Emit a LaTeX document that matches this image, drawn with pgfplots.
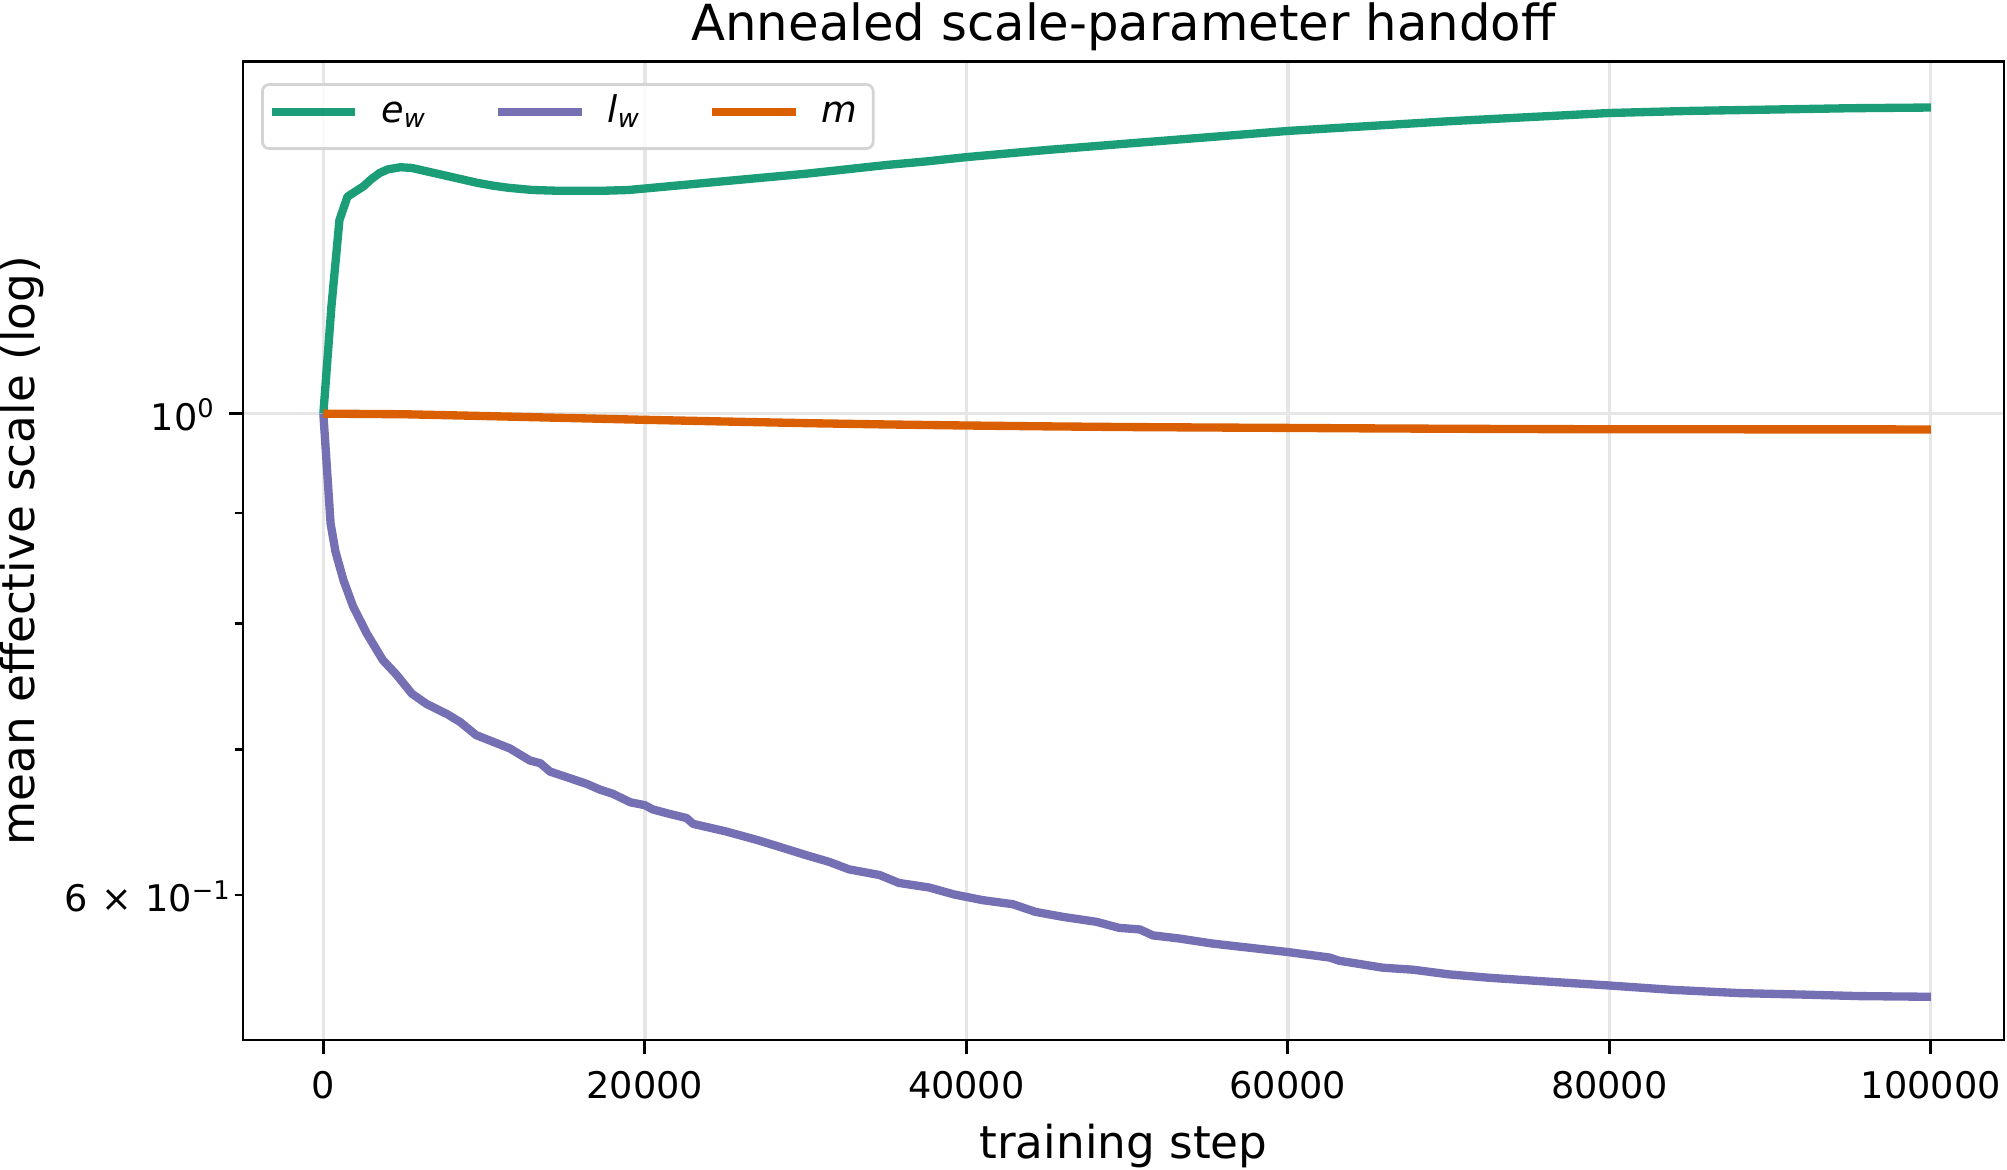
\documentclass[border=0pt]{standalone}
\usepackage{fontspec}
\setmainfont{DejaVu Sans}
\usepackage{pgfplots}
\pgfplotsset{compat=1.18}

\definecolor{ewcol}{HTML}{1B9E77}
\definecolor{lwcol}{HTML}{7570B3}
\definecolor{mcol}{HTML}{D95F02}
\definecolor{gridcol}{HTML}{E6E6E6}
\definecolor{legframe}{HTML}{D4D4D4}

\newcommand{\tickfont}{\fontsize{13.2pt}{15pt}\selectfont}
\newcommand{\labelfont}{\fontsize{16.3pt}{19pt}\selectfont}
\newcommand{\titlefont}{\fontsize{17.9pt}{21pt}\selectfont}

\begin{document}
\begin{tikzpicture}
\begin{axis}[
  at={(0,0)}, anchor=south west,
  scale only axis, width=633.9pt, height=352.2pt,
  ymode=log,
  xmin=-5000, xmax=104550,
  ymin=0.5143, ymax=1.4531,
  /pgf/number format/assume math mode=true,
  scaled x ticks=false,
  xtick={0,20000,40000,60000,80000,100000},
  xticklabels={0,20000,40000,60000,80000,100000},
  ytick={1},
  yticklabels={10\textsuperscript{0}\hspace*{5.7pt}},
  minor ytick={0.6,0.7,0.8,0.9},
  extra y ticks={0.6},
  extra y tick labels={6\hspace{4.7pt}×\hspace{4.7pt}10\textsuperscript{\symbol{"2212}1}},
  extra y tick style={ymajorgrids=false, tick style={draw=none}},
  xmajorgrids=true, ymajorgrids=true,
  grid style={gridcol, line width=1.2pt},
  tick pos=left, tick align=outside,
  major tick length=5pt, minor tick length=3pt,
  tick style={black, line width=1pt},
  axis line style={line width=1pt},
  ticklabel style={font=\tickfont},
  xticklabel style={anchor=base, yshift=-15.9pt, inner sep=0pt},
  yticklabel style={anchor=base east, yshift=-5.9pt, xshift=0.9pt, inner sep=0pt},
  title={Annealed scale-parameter handoff},
  title style={font=\titlefont, at={(axis description cs:0.5,1)}, anchor=base, yshift=1.7pt, inner sep=0pt},
  xlabel={training step},
  xlabel style={font=\labelfont, at={(axis description cs:0.5,-0.1208)}, anchor=base, inner sep=0pt},
  ylabel={mean effective scale (log)},
  ylabel style={font=\labelfont, at={(axis description cs:-0.1182,0.5)}, anchor=base, inner sep=0pt},
  legend columns=3,
  legend cell align=left,
  legend style={
    at={(0,1)}, anchor=north west, xshift=6.5pt, yshift=-7.7pt,
    draw=legframe, line width=1pt, rounded corners=2.5pt,
    fill=white, fill opacity=0.8, draw opacity=1, text opacity=1,
    inner xsep=2.0pt, inner ysep=3.9pt,
    font=\tickfont,
    nodes={inner sep=0pt, text height=9.8pt, text depth=5.5pt, anchor=west},
    /tikz/every odd column/.append style={column sep=7.8pt},
    /tikz/every even column/.append style={column sep=24.5pt},
  },
  legend image code/.code={\draw[#1, line width=3pt, sharp corners] (0pt,1.55pt) -- (30pt,1.55pt);},
]

% e_w : embedding weight scale
\addplot[ewcol, line width=3pt, line join=round] coordinates {
(0,1.000) (500,1.120) (1000,1.228) (1500,1.259) (2000,1.266) (2500,1.273)
(3000,1.283) (3500,1.291) (4000,1.296) (4800,1.299) (5500,1.298) (6500,1.293)
(7500,1.288) (8500,1.283) (9500,1.278) (10500,1.274) (11500,1.271) (13000,1.268)
(14500,1.267) (16000,1.267) (17500,1.267) (19000,1.268) (20000,1.270) (22500,1.275)
(25000,1.280) (27500,1.285) (30000,1.290) (32500,1.296) (35000,1.302) (37500,1.307)
(40000,1.313) (45000,1.323) (50000,1.332) (55000,1.341) (60000,1.350) (65000,1.357)
(70000,1.364) (75000,1.370) (80000,1.376) (85000,1.379) (90000,1.381) (95000,1.383)
(100000,1.384)
};
\addlegendentry{\itshape e\textsubscript{w}}

% l_w : layer weight scale
\addplot[lwcol, line width=3pt, line join=round] coordinates {
(0,1.000) (450,0.890) (750,0.864) (1250,0.838) (1850,0.815) (2700,0.792)
(3700,0.770) (4550,0.758) (5500,0.743) (6400,0.735) (7700,0.727) (8500,0.721)
(9500,0.711) (11600,0.701) (12850,0.692) (13500,0.690) (14100,0.684) (16400,0.675)
(17200,0.671) (18000,0.668) (19100,0.662) (20000,0.660) (20500,0.657) (21500,0.654)
(22600,0.651) (23000,0.647) (25000,0.642) (27000,0.636) (28500,0.631) (30000,0.626)
(31500,0.6213) (32700,0.6165) (34600,0.6128) (35800,0.6077) (37700,0.6047) (39200,0.6004)
(41000,0.5967) (42900,0.5941) (44300,0.5893) (46000,0.5862) (48100,0.5831) (49500,0.5794)
(50800,0.5784) (51600,0.5748) (53300,0.5728) (55300,0.5698) (57400,0.5675) (60000,0.5647)
(62600,0.5614) (63200,0.5595) (65900,0.5554) (67800,0.5542) (70000,0.5515) (72500,0.5495)
(75600,0.5476) (80000,0.5450) (83900,0.5425) (88100,0.5406) (92200,0.5397) (95500,0.5389)
(100000,0.5385)
};
\addlegendentry{\itshape l\textsubscript{w}}

% m : multiplier
\addplot[mcol, line width=3pt, line join=round] coordinates {
(0,1.000) (5000,0.9994) (10000,0.9975) (15000,0.9955) (20000,0.9935) (25000,0.9917)
(30000,0.9900) (35000,0.9886) (40000,0.9875) (45000,0.9866) (50000,0.9859) (55000,0.9854)
(60000,0.9850) (65000,0.9845) (70000,0.9841) (75000,0.9838) (80000,0.9836) (90000,0.9835)
(100000,0.9834)
};
\addlegendentry{\itshape m\hspace*{3.7pt}}

\end{axis}
\pgfresetboundingbox
\useasboundingbox (-87.47pt,-46.44pt) rectangle (635.0pt,374.4pt);
\end{tikzpicture}
\end{document}
